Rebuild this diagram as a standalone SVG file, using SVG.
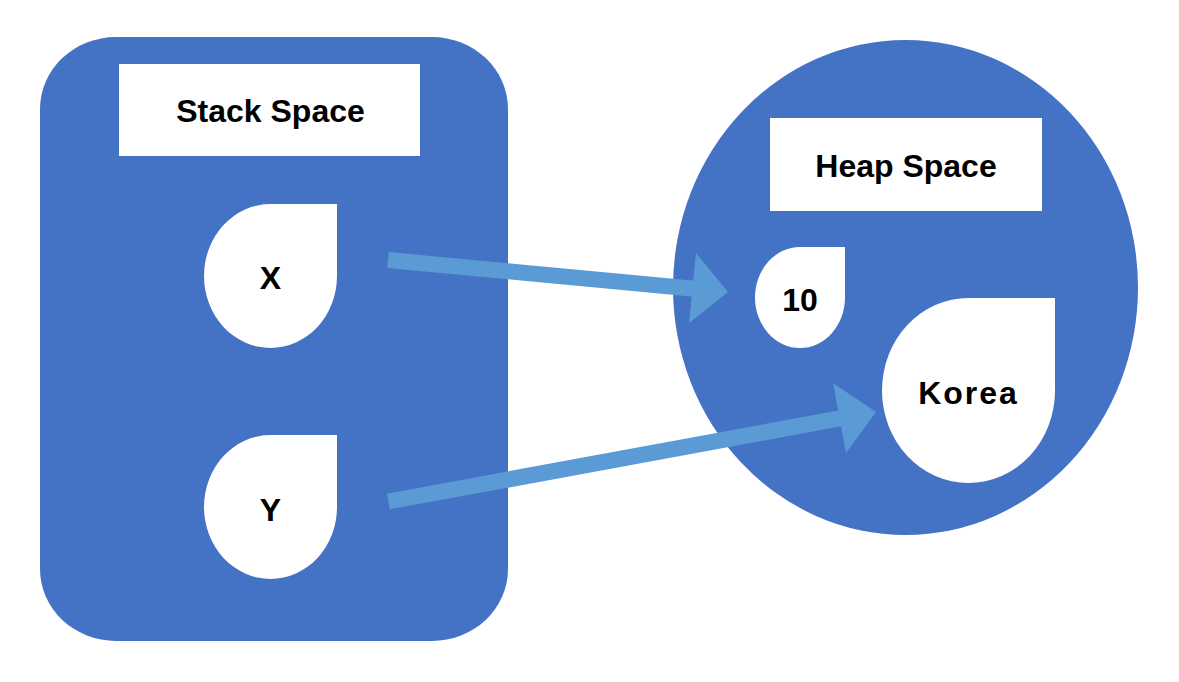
<svg xmlns="http://www.w3.org/2000/svg" width="1179" height="682" viewBox="0 0 1179 682">
  <style>
    .region { fill: #4472C4; }
    .box { fill: #FFFFFF; }
    .drop { fill: #FFFFFF; }
    .lbl { font-family: "Liberation Sans", Arial, sans-serif; font-weight: bold; font-size: 32px; fill: #000000; text-anchor: middle; }
    .shaft { stroke: #5B9BD5; stroke-width: 16; stroke-linecap: butt; fill: none; }
    .head { fill: #5B9BD5; }
  </style>
  <rect width="1179" height="682" fill="#FFFFFF"/>
  <g id="stack-space">
    <rect class="region" x="40" y="37" width="468" height="604" rx="76" ry="72"/>
    <rect class="box" x="119" y="64" width="301" height="92"/>
    <text class="lbl" x="270.5" y="122">Stack Space</text>
  </g>
  <g id="heap-space">
    <ellipse class="region" cx="905.5" cy="287.5" rx="232.5" ry="247.5"/>
    <rect class="box" x="770" y="118" width="272" height="93"/>
    <text class="lbl" x="906" y="177">Heap Space</text>
  </g>
  <g id="node-x">
    <path class="drop" d="M270.5 204 H337 V276 A66.5 72 0 0 1 270.5 348 A66.5 72 0 0 1 204 276 A66.5 72 0 0 1 270.5 204 Z"/>
    <text class="lbl" x="270.5" y="289">X</text>
  </g>
  <g id="node-y">
    <path class="drop" d="M270.5 435 H337 V507 A66.5 72 0 0 1 270.5 579 A66.5 72 0 0 1 204 507 A66.5 72 0 0 1 270.5 435 Z"/>
    <text class="lbl" x="270.5" y="521">Y</text>
  </g>
  <g id="node-10">
    <path class="drop" d="M800 247 H845 V297.5 A45 50.5 0 0 1 800 348 A45 50.5 0 0 1 755 297.5 A45 50.5 0 0 1 800 247 Z"/>
    <text class="lbl" x="800" y="311">10</text>
  </g>
  <g id="node-korea">
    <path class="drop" d="M968.5 298 H1055 V390.5 A86.5 92.5 0 0 1 968.5 483 A86.5 92.5 0 0 1 882 390.5 A86.5 92.5 0 0 1 968.5 298 Z"/>
    <text class="lbl" x="968.5" y="404" style="letter-spacing:2px">Korea</text>
  </g>
  <g id="connectors">
    <line class="shaft" x1="388" y1="260" x2="694" y2="288.7"/>
    <polygon class="head" points="696,253 728,292 689,323"/>
    <line class="shaft" x1="388.5" y1="501.5" x2="841" y2="418.2"/>
    <polygon class="head" points="833,383 876,412 846,453"/>
  </g>
</svg>
